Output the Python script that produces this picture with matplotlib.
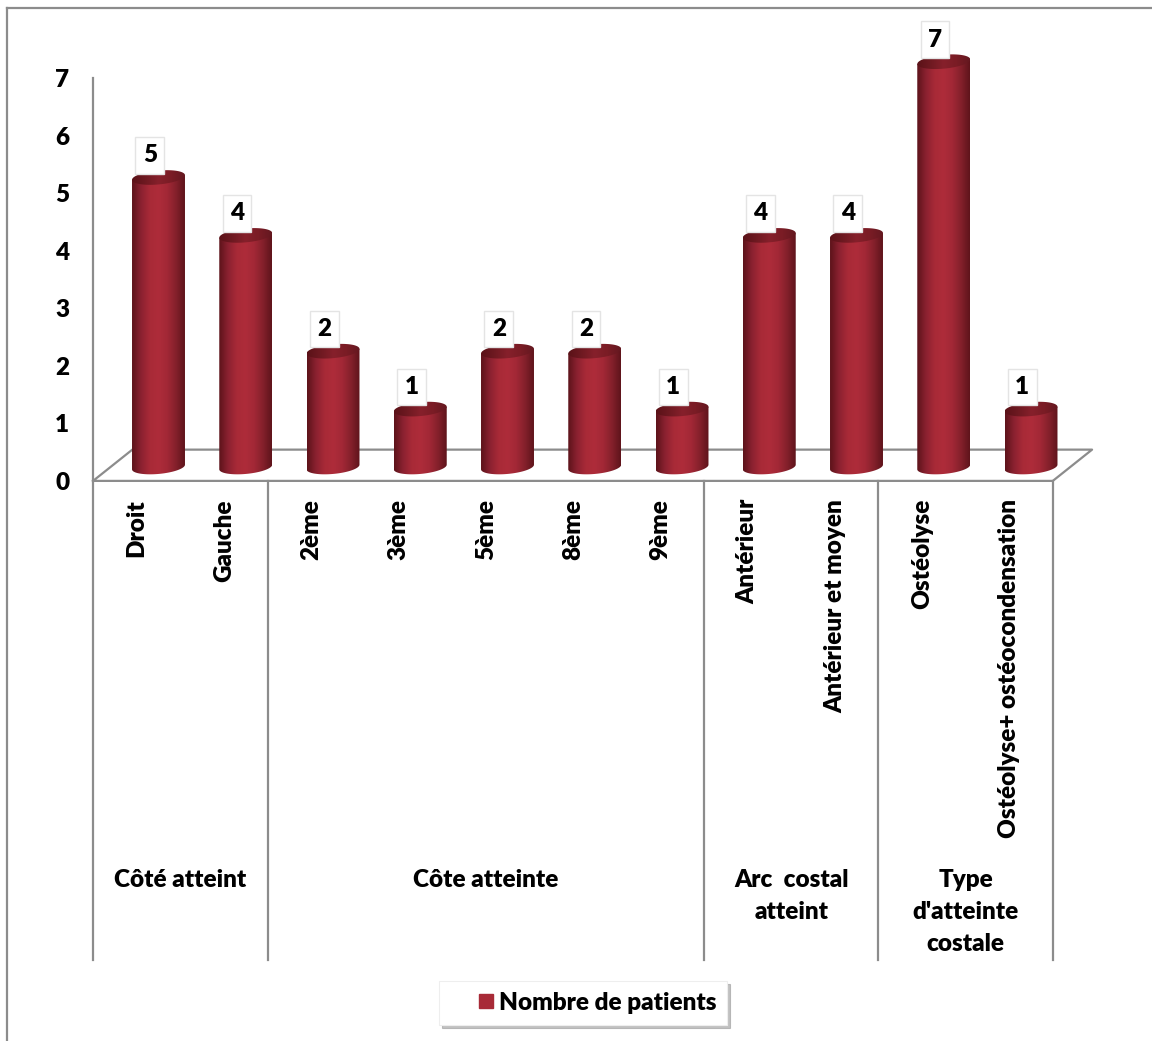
import numpy as np
import matplotlib
matplotlib.use("Agg")
import matplotlib.pyplot as plt
from matplotlib.colors import LinearSegmentedColormap
from matplotlib.patches import Polygon
from matplotlib.lines import Line2D

plt.rcParams['font.family'] = ['Lato', 'DejaVu Sans']
WEIGHT = "heavy"
plt.rcParams['font.weight'] = WEIGHT

# data
categories = ["Droit", "Gauche", "2ème", "3ème", "5ème", "8ème", "9ème",
              "Antérieur", "Antérieur et moyen", "Ostéolyse",
              "Ostéolyse+ ostéocondensation"]
patients = [5, 4, 2, 1, 2, 2, 1, 4, 4, 7, 1]
groups = ["Côté atteint", "Côte atteinte", "Arc  costal\natteint",
          "Type\nd'atteinte\ncostale"]
group_sizes = [2, 5, 2, 2]
series_name = "Nombre de patients"

W, H = 1152, 1041
FS = 17.5
grey = "#8c8c8c"
red = "#a82a37"

fig = plt.figure(figsize=(W / 100, H / 100), dpi=100)
fig.patch.set_facecolor("white")

# outer frame (top and left visible)
fig.add_artist(Line2D([7 / W, 7 / W], [0, 1 - 8 / H], color=grey, lw=1.6))
fig.add_artist(Line2D([7 / W, 1], [1 - 8 / H, 1 - 8 / H], color=grey, lw=1.6))

# main axes: x = category index (bar plane), y = value
ax = fig.add_axes([0, 0, 1, 1])
xpx0, xstep = 158.5, 87.25
ypx0, ystep = 467.0, 57.9
xlim = (-xpx0 / xstep, (W - xpx0) / xstep)
ylim = (-(H - ypx0) / ystep, ypx0 / ystep)
ax.set_axis_off()

# floor of the 3d plot
fx0, fx1 = -0.75, len(categories) - 0.75
fy, by, dx = -0.24, 0.30, 0.45
ax.plot([fx0, fx1, fx1 + dx, fx0 + dx, fx0], [fy, fy, by, by, fy],
        color=grey, lw=1.6, zorder=1)

body_cmap = LinearSegmentedColormap.from_list(
    "body", ["#5c131a", "#8a2130", "#a82a37", "#ae2c3a", "#a22836", "#84202b", "#5e141b"])
top_cmap = LinearSegmentedColormap.from_list(
    "top", ["#5a1218", "#6e1921", "#86202b", "#7a1c25", "#641820"])

bw = 0.607
eb = 0.12
tilt = 0.04
t = np.linspace(0, 2 * np.pi, 120)
grad = np.linspace(0, 1, 256).reshape(1, -1)

for i, v in enumerate(patients):
    cx = i
    xl, xr = cx - bw / 2, cx + bw / 2
    # bottom ellipse front half + sides
    tb = np.linspace(np.pi, 2 * np.pi, 60)
    bxs = cx + bw / 2 * np.cos(tb)
    bys = 0 + eb * np.sin(tb) + tilt * np.cos(tb)
    tt = np.linspace(0, np.pi, 60)
    txs = cx + bw / 2 * np.cos(tt)
    tys = v + tilt * np.cos(tt)
    body = Polygon(np.column_stack([np.r_[bxs, txs], np.r_[bys, tys]]),
                   closed=True, fill=False, lw=0)
    ax.add_patch(body)
    im = ax.imshow(grad, extent=[xl, xr, -eb - tilt, v + eb + tilt],
                   aspect="auto", cmap=body_cmap, interpolation="bicubic",
                   zorder=3, origin="lower")
    im.set_clip_path(body)
    # top face
    top = Polygon(np.column_stack([cx + bw / 2 * np.cos(t),
                                   v + eb * np.sin(t) + tilt * np.cos(t)]),
                  closed=True, fill=False, lw=0)
    ax.add_patch(top)
    im2 = ax.imshow(grad, extent=[xl, xr, v - eb - tilt, v + eb + tilt],
                    aspect="auto", cmap=top_cmap, interpolation="bicubic",
                    zorder=4, origin="lower")
    im2.set_clip_path(top)
    # value label
    ax.text(cx - 0.1, v + 0.38, str(v), ha="center", va="center",
            fontsize=FS, fontweight=WEIGHT, color="black", zorder=6,
            bbox=dict(boxstyle="square,pad=0.3", facecolor="white",
                      edgecolor="#e4e4e4", lw=1.0))

ax.set_xlim(*xlim)
ax.set_ylim(*ylim)

# front plane: value axis and category labels
top_px, bot_px, left_px, right_px = 78, 481, 93, 1053
axf = fig.add_axes([left_px / W, 1 - bot_px / H, (right_px - left_px) / W,
                    (bot_px - top_px) / H])
axf.patch.set_alpha(0)
axf.set_xlim(-0.5, len(categories) - 0.5)
axf.set_ylim(0, 7)
for s in ["top", "right", "bottom"]:
    axf.spines[s].set_visible(False)
axf.spines["left"].set_color(grey)
axf.spines["left"].set_linewidth(1.6)
axf.set_yticks(range(8))
axf.tick_params(axis="y", length=0, pad=17, labelsize=FS)
axf.set_xticks(range(len(categories)))
axf.set_xticklabels(categories, rotation=90, fontsize=FS, fontweight=WEIGHT)
axf.tick_params(axis="x", length=0, pad=13)
for lab in axf.get_yticklabels():
    lab.set_fontweight(WEIGHT)

trans = axf.get_xaxis_transform()
sep_bottom = -(960 - bot_px) / (bot_px - top_px)
bounds = np.r_[0, np.cumsum(group_sizes)] - 0.5
for b in bounds:
    axf.plot([b, b], [0, sep_bottom], color=grey, lw=1.6, transform=trans,
             clip_on=False)
label_top = -(869 - bot_px) / (bot_px - top_px)
for g, a, b in zip(groups, bounds[:-1], bounds[1:]):
    axf.text((a + b) / 2, label_top, g, transform=trans, ha="center",
             va="top", fontsize=FS, fontweight=WEIGHT, linespacing=1.55,
             multialignment="center")

handle = Line2D([], [], ls="none", marker="s", markersize=10,
                markerfacecolor=red, markeredgecolor=red)
leg = fig.legend(handles=[handle], labels=[series_name], loc="center",
                 bbox_to_anchor=(583 / W, 1 - 1003 / H), fontsize=FS,
                 frameon=True, fancybox=False, handlelength=3.0,
                 handletextpad=-1.0, borderpad=0.45, borderaxespad=0,
                 shadow={"color": "#9a9a9a", "alpha": 0.6})
leg.get_frame().set_edgecolor("#eeeeee")
leg.get_frame().set_linewidth(0.8)
for txt in leg.get_texts():
    txt.set_fontweight(WEIGHT)

fig.savefig("out.png", dpi=100, facecolor="white")
